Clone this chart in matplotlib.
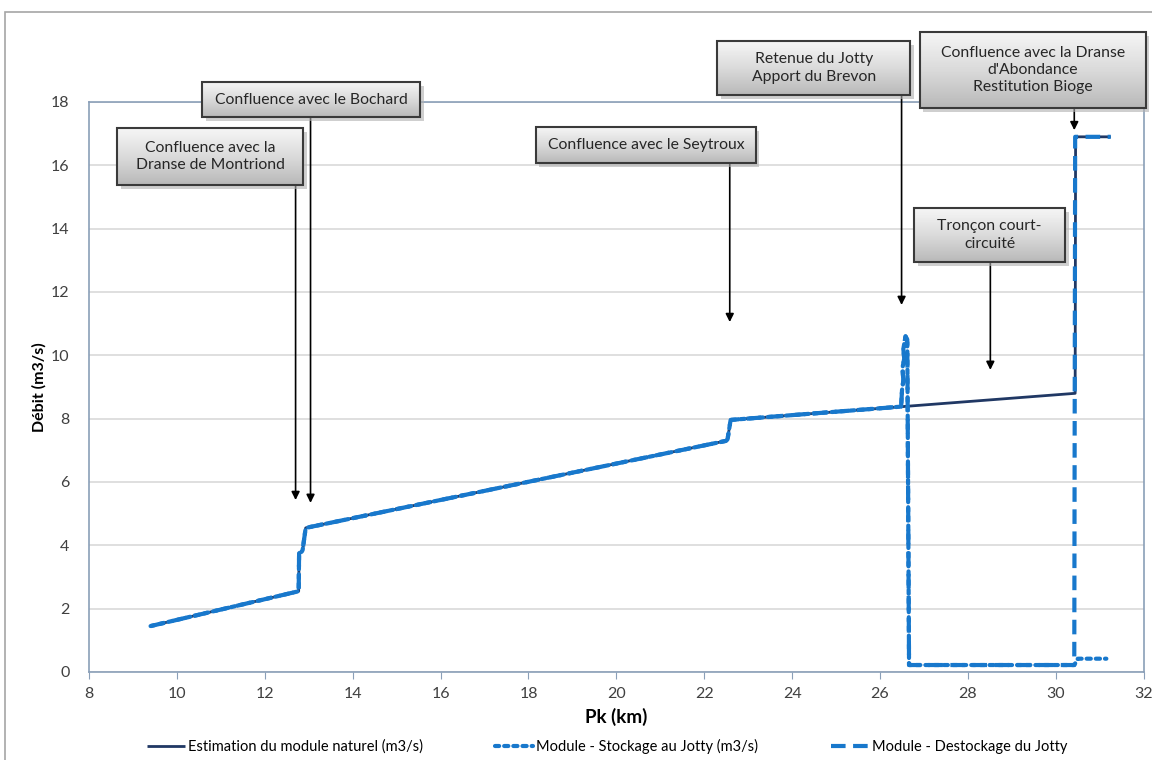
import matplotlib.pyplot as plt
import numpy as np
from matplotlib.patches import Rectangle

plt.rcParams['font.family'] = ['Lato', 'DejaVu Sans']

# Débit naturel le long de la Dranse (Pk en km, débit en m3/s)
pk_nat = [9.4, 12.77, 12.78, 12.84, 12.86, 12.93, 22.5, 22.53, 22.6, 26.6, 30.44, 30.45, 31.25]
q_nat = [1.45, 2.55, 3.75, 3.8, 3.85, 4.55, 7.3, 7.35, 7.96, 8.39, 8.8, 16.9, 16.9]

# Module avec stockage au Jotty
pk_sto = [9.4, 12.77, 12.78, 12.84, 12.86, 12.93, 22.5, 22.53, 22.6, 26.48,
          26.5, 26.53, 26.51, 26.55, 26.53, 26.58, 26.62, 26.66, 30.42, 30.5, 31.15]
q_sto = [1.45, 2.55, 3.75, 3.8, 3.85, 4.55, 7.3, 7.35, 7.96, 8.38,
         8.9, 9.2, 9.6, 9.9, 10.2, 10.6, 10.5, 0.22, 0.22, 0.42, 0.42]

# Module avec déstockage du Jotty
pk_desto = [9.4, 12.77, 12.78, 12.84, 12.86, 12.93, 22.5, 22.53, 22.6, 26.48,
            26.5, 26.53, 26.51, 26.55, 26.53, 26.58, 26.62, 26.66, 30.42, 30.44, 31.25]
q_desto = [1.45, 2.55, 3.75, 3.8, 3.85, 4.55, 7.3, 7.35, 7.96, 8.38,
           8.9, 9.2, 9.6, 9.9, 10.2, 10.6, 10.5, 0.22, 0.22, 16.9, 16.9]

# Étiquettes : texte, boîte (x0, x1, y0, y1), flèche (x, y départ, y pointe)
labels = [
    ("Confluence avec la\nDranse de Montriond", (8.64, 12.88, 15.38, 17.18), (12.70, 15.38, 5.43)),
    ("Confluence avec le Bochard", (10.57, 15.54, 17.52, 18.63), (13.04, 17.52, 5.34)),
    ("Confluence avec le Seytroux", (18.17, 23.17, 16.07, 17.21), (22.58, 16.07, 11.05)),
    ("Retenue du Jotty\nApport du Brevon", (22.29, 26.69, 18.22, 19.92), (26.49, 18.22, 11.59)),
    ("Confluence avec la Dranse\nd'Abondance\nRestitution Bioge", (26.90, 32.05, 17.81, 20.21), (30.42, 17.81, 17.11)),
    ("Tronçon court-\ncircuité", (26.78, 30.21, 12.95, 14.65), (28.51, 12.95, 9.54)),
]

navy = '#203864'
blue = '#1878CC'

fig = plt.figure(figsize=(11.52, 7.6), dpi=100)
ax = fig.add_axes([0.0773, 0.1158, 0.9155, 0.75])

# outer chart frame
fig.patches.append(Rectangle((5 / 1152, -0.1), 1.2, 0.1 + 1 - 12 / 760, transform=fig.transFigure,
                             fill=False, edgecolor='#A6A6A6', lw=1.2))

ax.plot(pk_nat, q_nat, color=navy, lw=2.0, solid_capstyle='butt',
        label='Estimation du module naturel (m3/s)', zorder=3)
ax.plot(pk_sto, q_sto, color=blue, lw=3, linestyle=(0, (1, 1.2)), dash_capstyle='round',
        label='Module - Stockage au Jotty (m3/s)', zorder=4)
ax.plot(pk_desto, q_desto, color=blue, lw=3, linestyle=(0, (3.5, 1.8)),
        label='Module - Destockage du Jotty', zorder=4)

ax.set_xlim(8, 32)
ax.set_ylim(0, 18)
ax.set_xticks(np.arange(8, 33, 2))
ax.set_yticks(np.arange(0, 19, 2))
ax.grid(axis='y', color='#D9D9D9', lw=1.2)
ax.set_axisbelow(True)
for s in ax.spines.values():
    s.set_color('#8A9FB8')
    s.set_linewidth(1.2)
ax.tick_params(axis='x', length=5, color='#8A9FB8', labelsize=11.5, pad=6, labelcolor='#404040')
ax.tick_params(axis='y', length=0, labelsize=11.5, pad=14, labelcolor='#404040')
ax.set_xlabel('Pk (km)', fontsize=13.5, fontweight='bold', labelpad=5)
ax.set_ylabel('Débit (m3/s)', fontsize=11.5, fontweight='bold', labelpad=3)

# gradient boxes with shadow and arrows
grad = np.linspace(0, 1, 64).reshape(-1, 1)
for text, (x0, x1, y0, y1), (ax_x, y_from, y_to) in labels:
    dx, dy = 0.08, 0.12
    sh = Rectangle((x0 + dx, y0 - dy), x1 - x0, y1 - y0, facecolor='#B0B0B0', edgecolor='none',
                   alpha=0.6, zorder=6, clip_on=False)
    ax.add_patch(sh)
    im = ax.imshow(grad, extent=[x0, x1, y0, y1], aspect='auto', cmap='Greys_r',
                   vmin=-2.0, vmax=1.3, origin='lower', zorder=7, interpolation='bilinear')
    im.set_clip_on(False)
    ax.add_patch(Rectangle((x0, y0), x1 - x0, y1 - y0, fill=False, edgecolor='#3A3A3A',
                           lw=1.5, zorder=8, clip_on=False))
    ax.text((x0 + x1) / 2, (y0 + y1) / 2, text, ha='center', va='center', fontsize=11.3,
            color='#262626', linespacing=1.3, zorder=9, clip_on=False)
    ax.annotate('', xy=(ax_x, y_to), xytext=(ax_x, y_from),
                arrowprops=dict(arrowstyle='-|>', color='black', lw=1.2, mutation_scale=12,
                                shrinkA=0, shrinkB=0),
                zorder=5, annotation_clip=False)

ax.set_xlim(8, 32)
ax.set_ylim(0, 18)

fig.legend(loc='center', bbox_to_anchor=(0.527, 0.018), ncol=3, frameon=False,
           fontsize=10.5, handlelength=2.6, handletextpad=0.2, columnspacing=5.0)

fig.savefig('out.png', dpi=100)
